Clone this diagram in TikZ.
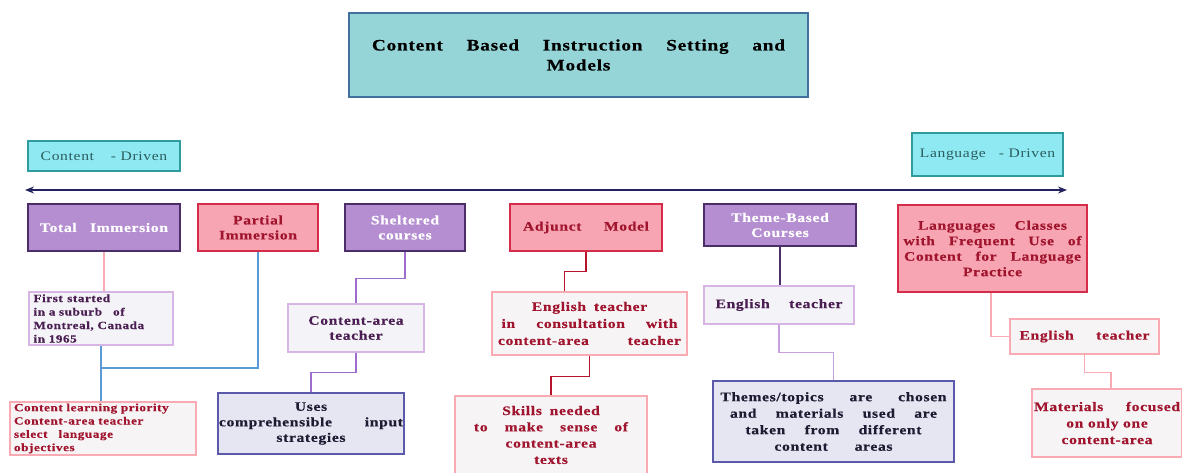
\documentclass[tikz,border=0pt]{standalone}
\usepackage{fontspec}
\setmainfont{Liberation Serif}[FakeStretch=1.2,LetterSpace=5,BoldFeatures={FakeBold=0.4}]
\usetikzlibrary{arrows.meta}
\definecolor{titlefill}{HTML}{95D5D8}
\definecolor{titledraw}{HTML}{41719C}
\definecolor{cyanfill}{HTML}{8EE9F2}
\definecolor{cyandraw}{HTML}{2E9C9C}
\definecolor{cyantext}{HTML}{2B5D5E}
\definecolor{purfill}{HTML}{B48ED0}
\definecolor{purdraw}{HTML}{4B2E68}
\definecolor{pinkfill}{HTML}{F7A5B2}
\definecolor{pinkdraw}{HTML}{D42C4A}
\definecolor{redtext}{HTML}{A0142E}
\definecolor{grayfill}{HTML}{F4F3F7}
\definecolor{lpurdraw}{HTML}{D7B5E5}
\definecolor{purtext}{HTML}{4A1E52}
\definecolor{pgfill}{HTML}{F7F4F6}
\definecolor{lpinkdraw}{HTML}{F9AAB3}
\definecolor{lavfill}{HTML}{E6E6F2}
\definecolor{lavdraw}{HTML}{5B59AA}
\definecolor{darktext}{HTML}{1E1A32}
\definecolor{navy}{HTML}{232360}
\definecolor{blueline}{HTML}{5B9BD5}
\definecolor{purline}{HTML}{9E6CCD}
\definecolor{redline}{HTML}{B5132E}
\definecolor{lpurline}{HTML}{C9A0DD}
\newcommand\jl[2]{\makebox[#1pt][s]{#2}}
\tikzset{
  x=1pt, y=-1pt,
  sz/.style 2 args={minimum width=#1pt, minimum height=#2pt},
  box/.style={draw, line width=1.1pt, inner sep=0pt, align=center,
    font=\fontsize{13}{15}\selectfont\bfseries},
  titlebox/.style={box, fill=titlefill, draw=titledraw, text=black,
    font=\fontsize{16}{20}\selectfont\bfseries},
  drivenbox/.style={box, fill=cyanfill, draw=cyandraw, text=cyantext,
    font=\fontsize{13}{15}\selectfont},
  purbox/.style={box, fill=purfill, draw=purdraw, text=white},
  pinkbox/.style={box, fill=pinkfill, draw=pinkdraw, text=redtext},
  graybox/.style={box, fill=grayfill, draw=lpurdraw, text=purtext},
  pgbox/.style={box, fill=pgfill, draw=lpinkdraw, text=redtext},
  lavbox/.style={box, fill=lavfill, draw=lavdraw, text=darktext},
  conn/.style={line width=1.1pt},
}
\begin{document}
\begin{tikzpicture}
\useasboundingbox (0,0) rectangle (1182,472);
% title and scale
\node[titlebox, sz={459}{84}] (title) at (578.5,55)
  {\jl{413}{Content Based Instruction Setting and}\\Models};
\node[drivenbox, sz={152}{30}] (cd) at (104,156) {Content\hspace{1.3em}- Driven};
\node[drivenbox, sz={151}{43}] (ld) at (987.5,154.5) {Language\hspace{1em}- Driven};
\coordinate (al) at (25,190);
\coordinate (ar) at (1067,190);
\draw[navy, line width=1.2pt, {Stealth[length=9pt,width=7pt]}-{Stealth[length=9pt,width=7pt]}] (al) -- (ar);
% top row
\node[purbox, sz={152}{47}] (ti) at (104,227.5) {\jl{128}{Total Immersion}};
\node[pinkbox, sz={120}{47}] (pi) at (258,227.5) {Partial\\Immersion};
\node[purbox, sz={120}{47}] (sc) at (405,227.5) {Sheltered\\courses};
\node[pinkbox, sz={152}{47}] (am) at (586,227.5) {\jl{126}{Adjunct Model}};
\node[purbox, sz={152}{42}] (tb) at (780,225) {Theme-Based\\Courses};
\node[pinkbox, sz={189}{87}, font=\fontsize{13}{15.5}\selectfont\bfseries] (lc) at (992.5,248.5)
  {\jl{149}{Languages Classes}\\\jl{178}{with Frequent Use of}\\\jl{177}{Content for Language}\\Practice};
% second row
\node[graybox, sz={144}{53}, text width=135pt, align=left,
  font=\fontsize{11}{13.5}\selectfont\bfseries] (fs) at (101,318.5)
  {First\hspace{0.4em}started\\in a suburb\hspace{1em}of\\\jl{125}{Montreal, Canada}\\in 1965};
\node[graybox, sz={136}{48}] (ca) at (356,328) {Content-area\\teacher};
\node[pgbox, sz={195}{63}, font=\fontsize{13}{17}\selectfont\bfseries] (ec) at (589.5,323.5)
  {English\hspace{0.6em}teacher\\\jl{176}{in consultation with}\\\jl{183}{content-area teacher}};
\node[graybox, sz={150}{38}] (et) at (779,305) {\jl{127}{English teacher}};
\node[pgbox, sz={149}{35}] (el) at (1084.5,336.5) {\jl{130}{English teacher}};
% third row
\node[pgbox, sz={186}{53}, text width=178pt, align=left,
  font=\fontsize{11}{13.3}\selectfont\bfseries] (cl) at (103,428.5)
  {\jl{178}{Content learning priority}\\\jl{148}{Content-area teacher}\\select\hspace{1em}language\\objectives};
\node[lavbox, sz={186}{61}, font=\fontsize{13}{15.5}\selectfont\bfseries] (us) at (311,423.5)
  {Uses\\\jl{184}{comprehensible input}\\strategies};
\node[pgbox, sz={192}{78}, font=\fontsize{13}{16.3}\selectfont\bfseries] (sk) at (551,435)
  {Skills\hspace{0.6em}needed\\\jl{154}{to make sense of}\\content-area\\texts};
\node[lavbox, sz={241}{81}, font=\fontsize{13}{16.5}\selectfont\bfseries] (tt) at (833.5,421.5)
  {\jl{226}{Themes/topics are chosen}\\\jl{207}{and materials used are}\\\jl{176}{taken from different}\\\jl{118}{content areas}};
\node[pgbox, sz={150}{68}, font=\fontsize{13}{16.5}\selectfont\bfseries] (mf) at (1107,423)
  {\jl{146}{Materials focused}\\on only one\\content-area};
% connectors
\coordinate (j1) at (fs.south |- 0,368);
\draw[conn, lpinkdraw] (ti.south) -- (ti.south |- fs.north);
\draw[conn, blueline] (fs.south) -- (fs.south |- cl.north);
\draw[conn, blueline] (pi.south) |- (j1);
\draw[conn, purline] (sc.south) -- ++(0,27) -| (ca.north);
\draw[conn, purline] (ca.south) -- ++(0,20) -| (us.north);
\draw[conn, redline] (am.south) -- ++(0,20) -| ([xshift=-25pt]ec.north);
\draw[conn, redline] (ec.south) -- ++(0,21) -| (sk.north);
\draw[conn, purdraw] (tb.south) -- (tb.south |- et.north);
\draw[conn, lpurline] (et.south) -- ++(0,28) -| (tt.north);
\draw[conn, lpinkdraw] ([xshift=-1.5pt]lc.south) |- (el.west);
\draw[conn, lpinkdraw] (el.south) -- ++(0,18) -| ([xshift=4pt]mf.north);
\end{tikzpicture}
\end{document}
